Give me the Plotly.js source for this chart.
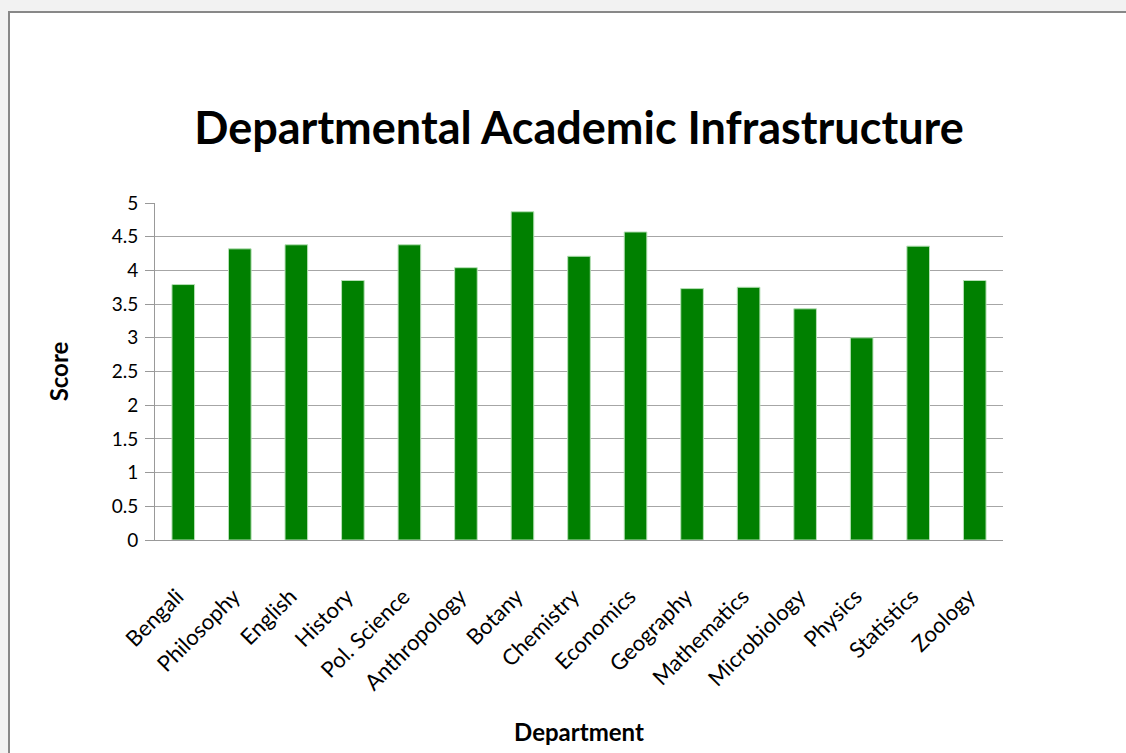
<!DOCTYPE html>
<html>
<head>
<meta charset="utf-8">
<script src="https://cdn.plot.ly/plotly-3.0.1.min.js"></script>
<style>
html, body { margin: 0; padding: 0; background: #f2f2f2; overflow: hidden; width: 1126px; height: 753px; }
#frame { position: absolute; left: 8px; top: 11px; width: 1140px; height: 770px; background: #fff; border-top: 2px solid #888; border-left: 2px solid #888; }
#chart { position: absolute; left: 0; top: 0; width: 1120px; height: 745px; }
</style>
</head>
<body>
<div id="frame"><div id="chart"></div></div>
<script>
const departments = ["Bengali", "Philosophy", "English", "History", "Pol. Science", "Anthropology", "Botany", "Chemistry", "Economics", "Geography", "Mathematics", "Microbiology", "Physics", "Statistics", "Zoology"];
const scores = [3.79, 4.32, 4.38, 3.85, 4.38, 4.04, 4.87, 4.21, 4.57, 3.73, 3.75, 3.43, 3.0, 4.36, 3.85];
const yTicks = [0, 0.5, 1, 1.5, 2, 2.5, 3, 3.5, 4, 4.5, 5];

const FONT = "Lato, 'Open Sans', sans-serif";

Plotly.newPlot("chart", [{
  type: "bar",
  x: departments,
  y: scores,
  marker: { color: "#008000", line: { color: "#b6e0b6", width: 1 } },
  hoverinfo: "x+y"
}], {
  width: 1120,
  height: 745,
  paper_bgcolor: "rgba(0,0,0,0)",
  plot_bgcolor: "rgba(0,0,0,0)",
  margin: { l: 145, r: 127, t: 190, b: 218 },
  bargap: 0.6,
  showlegend: false,
  font: { family: FONT, color: "#000" },
  title: {
    text: "<b>Departmental Academic Infrastructure</b>",
    font: { family: FONT, size: 45, color: "#000" },
    x: 0.508, xanchor: "center", y: 0.845, yanchor: "middle"
  },
  xaxis: {
    type: "category",
    tickangle: -45,
    tickfont: { family: FONT, size: 22, color: "#000" },
    ticklabelstandoff: 34,
    ticklabelshift: -6,
    showline: true, linecolor: "#999", linewidth: 1,
    ticks: "",
    showgrid: false,
    automargin: false,
    title: { text: "<b>Department</b>", font: { family: FONT, size: 24, color: "#000" }, standoff: 29 }
  },
  yaxis: {
    range: [0, 5],
    tickvals: yTicks,
    ticktext: yTicks.map(String),
    tickfont: { family: FONT, size: 19, color: "#000" },
    ticklabelstandoff: 3,
    showline: true, linecolor: "#999", linewidth: 1,
    ticks: "outside", ticklen: 9, tickcolor: "#999",
    showgrid: true, gridcolor: "#a6a6a6", gridwidth: 1,
    zeroline: false,
    automargin: false,
    title: { text: "<b>Score</b>", font: { family: FONT, size: 24, color: "#000" }, standoff: 36 }
  }
}, { displayModeBar: false });
</script>
</body>
</html>
